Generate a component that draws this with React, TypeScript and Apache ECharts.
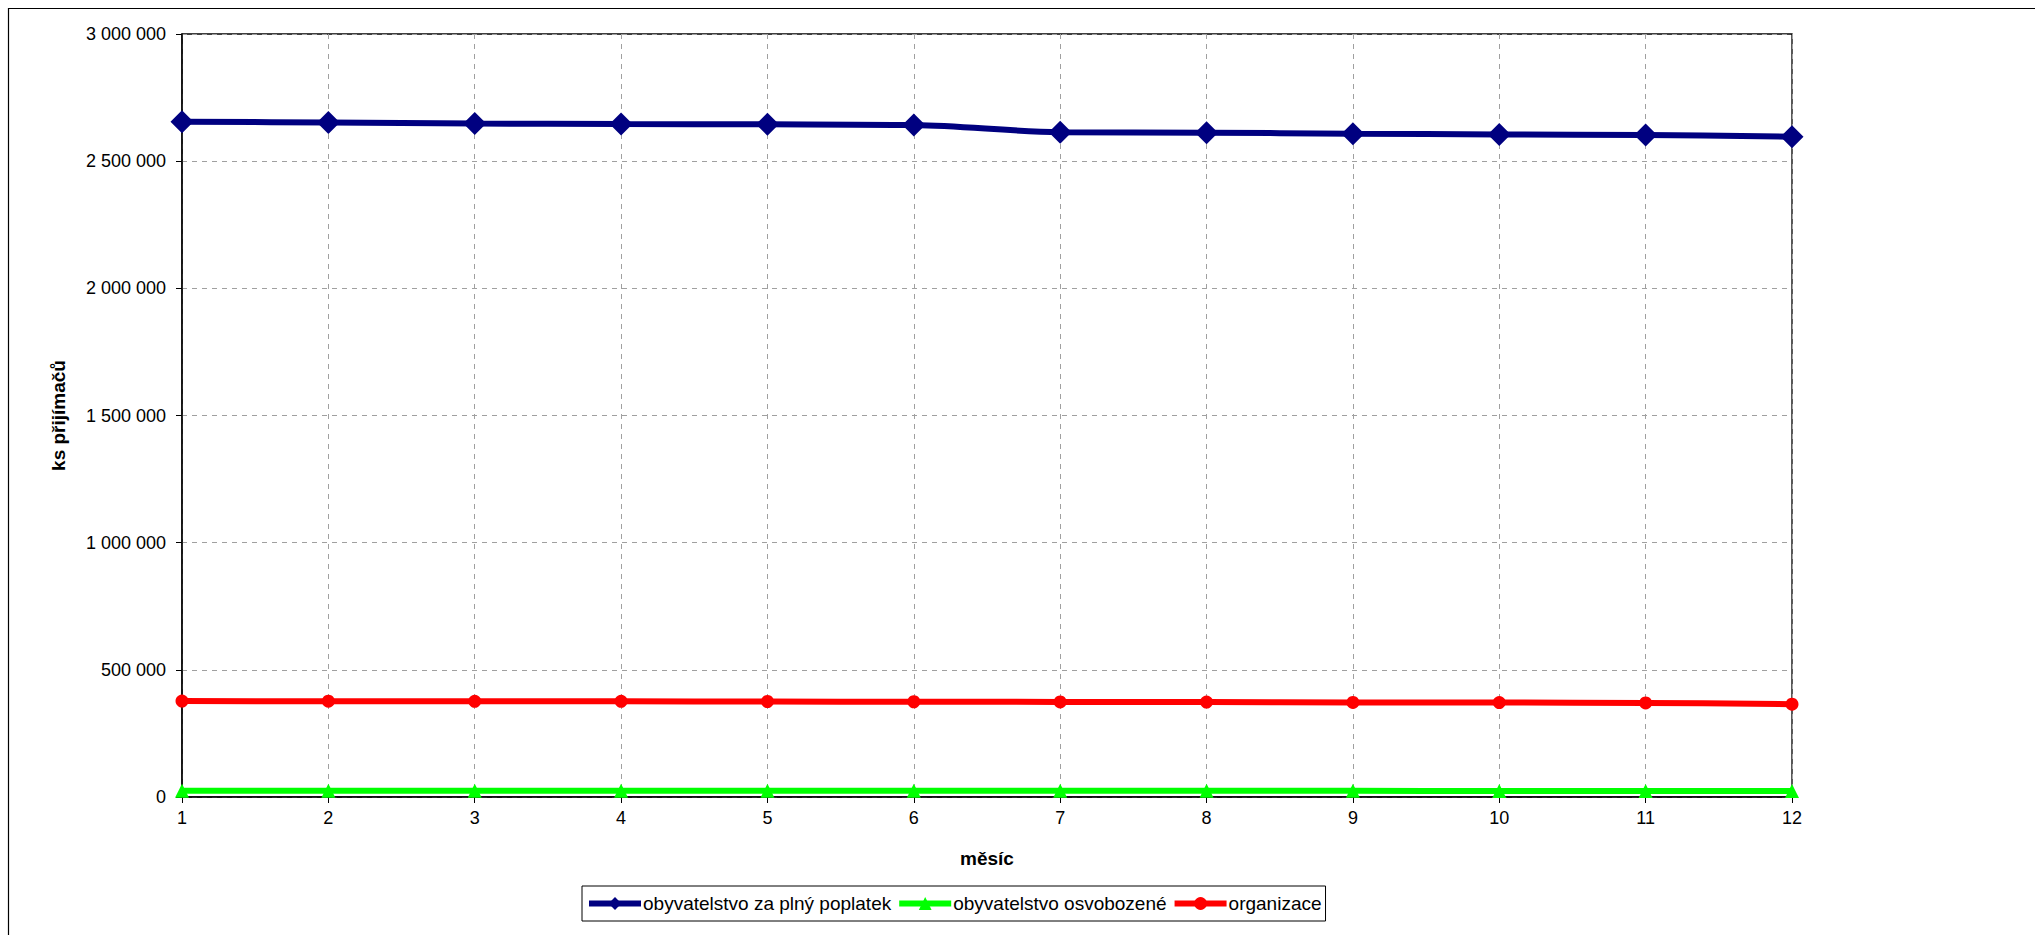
import React, { useEffect, useRef } from "react";
import * as echarts from "echarts";

const months = ["1", "2", "3", "4", "5", "6", "7", "8", "9", "10", "11", "12"];
const fullFee = [2655000, 2652000, 2648000, 2646000, 2645000, 2642000, 2614000, 2612000, 2608000, 2605000, 2603000, 2596000];
const exempt = [24600, 24500, 24500, 24400, 24400, 24300, 24200, 24200, 24100, 24000, 24000, 23900];
const organizations = [377000, 376500, 376000, 376000, 375500, 374500, 374000, 373500, 372000, 371500, 370000, 365000];
const seriesNames = ["obyvatelstvo za plný poplatek", "obyvatelstvo osvobozené", "organizace"];
const yTicks = [0, 500000, 1000000, 1500000, 2000000, 2500000, 3000000];

const FONT = "'Liberation Sans', Arial, sans-serif";

function fmt(v: number): string {
  return String(Math.round(v)).replace(/\B(?=(\d{3})+(?!\d))/g, " ");
}

export default function App() {
  const ref = useRef<HTMLDivElement>(null);
  useEffect(() => {
    if (!ref.current) return;
    const chart = echarts.init(ref.current, undefined, { renderer: "svg" });
    chart.setOption({
      animation: false,
      backgroundColor: "#fff",
      textStyle: { fontFamily: FONT },
      graphic: [
        {
          type: "rect",
          shape: { x: 8.5, y: 8.5, width: 2200, height: 1100 },
          style: { fill: "none", stroke: "#000", lineWidth: 1.2 },
          silent: true,
        },
      ],
      grid: {
        left: 182,
        top: 34,
        right: 243,
        bottom: 138,
        show: true,
        borderColor: "#000",
        borderWidth: 1.3,
        backgroundColor: "transparent",
      },
      legend: {
        left: 582,
        top: 886,
        padding: [8, 4, 8, 4],
        itemGap: 5,
        itemWidth: 52,
        itemHeight: 16,
        borderColor: "#000",
        borderWidth: 1,
        lineStyle: { width: 6 },
        textStyle: { fontFamily: FONT, fontSize: 19, color: "#000", padding: [0, 0, 0, -3] },
        data: seriesNames,
      },
      xAxis: {
        type: "category",
        data: months,
        boundaryGap: false,
        name: "měsíc",
        nameLocation: "middle",
        nameGap: 52,
        nameTextStyle: { fontFamily: FONT, fontSize: 19, fontWeight: "bold", color: "#000" },
        axisLine: { lineStyle: { color: "#000", width: 1.5 } },
        axisTick: { show: true, inside: false, length: 6, alignWithLabel: true, lineStyle: { color: "#000" } },
        axisLabel: { fontFamily: FONT, fontSize: 18, color: "#000", margin: 12 },
        splitLine: { show: true, lineStyle: { color: "#a0a0a0", type: [5, 5], width: 1 } },
      },
      yAxis: {
        type: "value",
        min: yTicks[0],
        max: yTicks[yTicks.length - 1],
        interval: yTicks[1] - yTicks[0],
        name: "ks přijímačů",
        nameLocation: "middle",
        nameGap: 114,
        nameTextStyle: { fontFamily: FONT, fontSize: 19, fontWeight: "bold", color: "#000" },
        axisLine: { show: true, lineStyle: { color: "#000", width: 1.5 } },
        axisTick: { show: true, inside: false, length: 6, lineStyle: { color: "#000" } },
        axisLabel: { fontFamily: FONT, fontSize: 18, color: "#000", margin: 16, formatter: (v: number) => fmt(v) },
        splitLine: { show: true, lineStyle: { color: "#a0a0a0", type: [5, 5], width: 1 } },
      },
      series: [
        {
          name: seriesNames[0],
          type: "line",
          data: fullFee,
          smooth: 0.35,
          symbol: "diamond",
          symbolSize: 23,
          itemStyle: { color: "#000080" },
          lineStyle: { color: "#000080", width: 6 },
          z: 3,
        },
        {
          name: seriesNames[1],
          type: "line",
          data: exempt,
          smooth: 0.35,
          symbol: "triangle",
          symbolSize: 14,
          itemStyle: { color: "#00ff00" },
          lineStyle: { color: "#00ff00", width: 6 },
          z: 3,
        },
        {
          name: seriesNames[2],
          type: "line",
          data: organizations,
          smooth: 0.35,
          symbol: "circle",
          symbolSize: 13,
          itemStyle: { color: "#ff0000" },
          lineStyle: { color: "#ff0000", width: 6 },
          z: 3,
        },
      ],
    });
    return () => chart.dispose();
  }, []);
  return (
    <div
      ref={ref}
      style={{ position: "fixed", left: 0, top: 0, width: 2035, height: 935 }}
    />
  );
}
